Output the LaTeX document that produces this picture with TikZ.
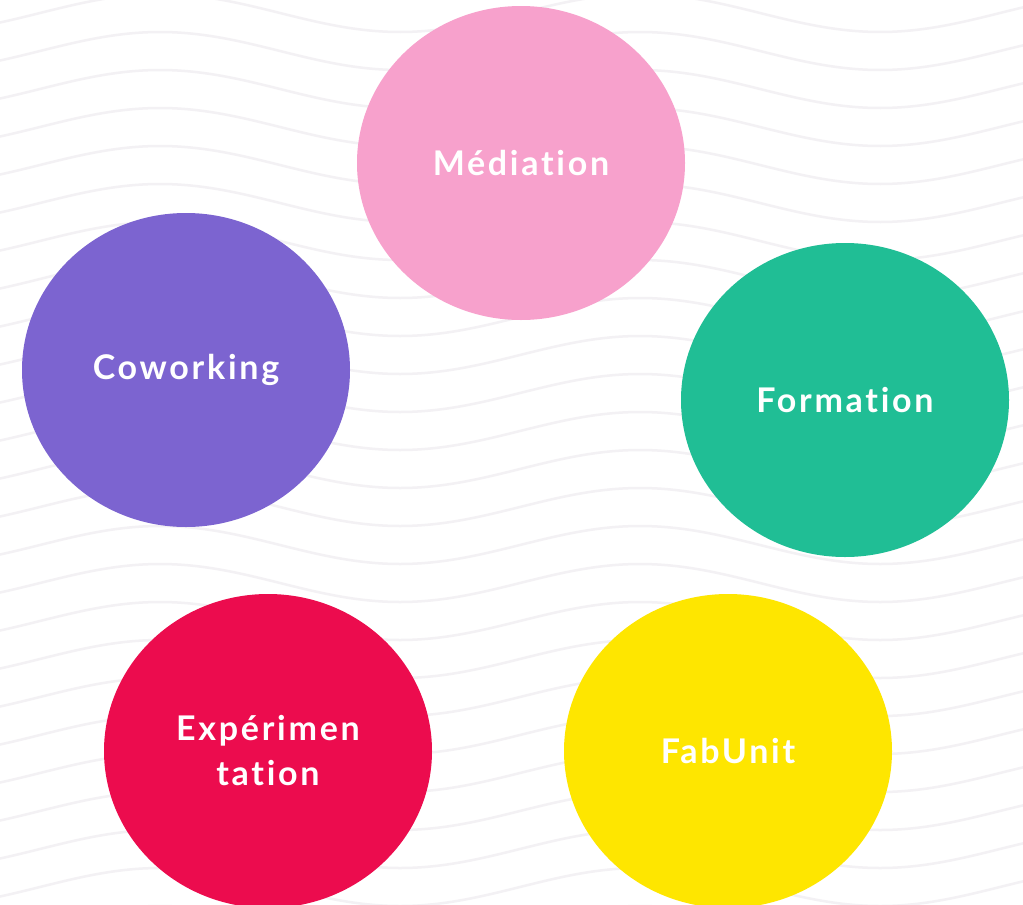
\documentclass[tikz,border=0pt]{standalone}
\usepackage{fontspec}
\setmainfont{Lato}[LetterSpace=8,Ligatures={NoCommon}]
\usetikzlibrary{shapes.geometric}
\definecolor{wavegray}{HTML}{F3F1F4}
\definecolor{pinkmed}{HTML}{F7A1CC}
\definecolor{purplecow}{HTML}{7C64D0}
\definecolor{greenform}{HTML}{20BE95}
\definecolor{redexp}{HTML}{EC0C4E}
\definecolor{yellowfab}{HTML}{FEE600}
\tikzset{
  bulle/.style={ellipse,minimum width=328pt,minimum height=314pt,inner sep=0pt,
    text=white,align=center,font=\fontsize{34}{45}\selectfont\bfseries},
  vague/.style={wavegray,line width=2.5pt}
}
\begin{document}
\begin{tikzpicture}[x=1pt,y=-1pt]

\useasboundingbox (0,0) rectangle (1023,905);
\fill[white] (0,0) rectangle (1023,905);

%background waves
\begin{scope}
\clip (0,0) rectangle (1023,905);
\foreach \k in {-1,...,25} {
  \draw[vague] plot[domain=-10:1033,samples=90,smooth] (\x,{13+38*\k-19*cos(0.75*(\x-160))});
}
\end{scope}

%mediation
\node[bulle,fill=pinkmed] (mediation) at (521,163) {Médiation};
%coworking
\node[bulle,fill=purplecow] (coworking) at (186,370) {Coworking};
%formation
\node[bulle,fill=greenform] (formation) at (845,400) {Formation};
%experimentation
\node[bulle,fill=redexp] (experimentation) at (268,751) {Expérimen\\tation};
%fabunit
\node[bulle,fill=yellowfab] (fabunit) at (728,751) {FabUnit};

\end{tikzpicture}
\end{document}
